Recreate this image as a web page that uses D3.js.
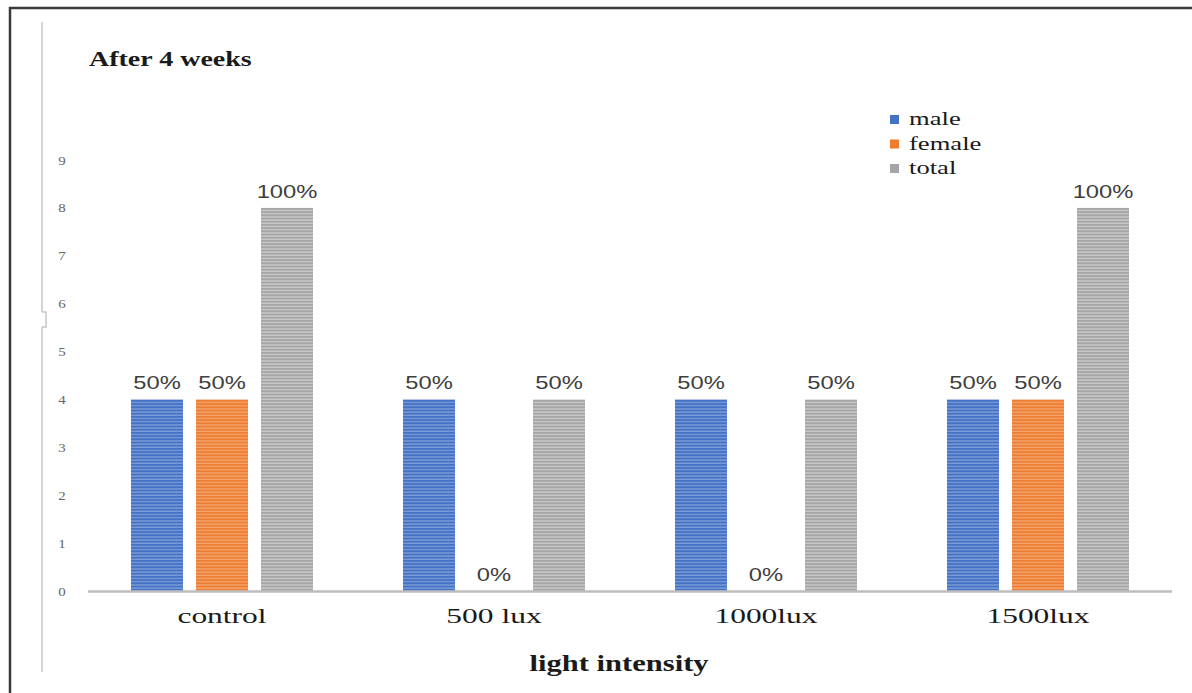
<!DOCTYPE html>
<html>
<head>
<meta charset="utf-8">
<script src="https://cdn.jsdelivr.net/npm/d3@7"></script>
<style>
  body { margin: 0; background: #fff; }
  svg { display: block; }
</style>
</head>
<body>
<div id="chart"></div>
<script>
const categories = ["control", "500 lux", "1000lux", "1500lux"];
const seriesNames = ["male", "female", "total"];
const maleValues = [4, 4, 4, 4];
const femaleValues = [4, 0, 0, 4];
const totalValues = [8, 4, 4, 8];
const maleLabels = ["50%", "50%", "50%", "50%"];
const femaleLabels = ["50%", "0%", "0%", "50%"];
const totalLabels = ["100%", "50%", "50%", "100%"];
const yTicks = [0, 1, 2, 3, 4, 5, 6, 7, 8, 9];

const W = 1192, H = 693;
const colors = { male: "#4472c4", female: "#ed7d31", total: "#a5a5a5" };
const stripe = { male: "#8fa9dc", female: "#f5b283", total: "#d6d6d6" };
const serif = "'Liberation Serif', 'Times New Roman', serif";

const svg = d3.select("#chart").append("svg")
  .attr("width", W).attr("height", H);

// the source picture is stretched sideways, so text gets a horizontal scale
function wideText(sel, x, y, sx) {
  return sel.append("text")
    .attr("transform", `translate(${x},${y}) scale(${sx},1)`);
}

// striped fill patterns, one per series
const defs = svg.append("defs");
seriesNames.forEach(s => {
  const p = defs.append("pattern")
    .attr("id", "pat-" + s)
    .attr("patternUnits", "userSpaceOnUse")
    .attr("width", 6).attr("height", 3.2);
  p.append("rect").attr("width", 6).attr("height", 3.2).attr("fill", colors[s]);
  p.append("rect").attr("y", 2).attr("width", 6).attr("height", 1).attr("fill", stripe[s]);
});

// outer frame
svg.append("rect")
  .attr("x", 10).attr("y", 8)
  .attr("width", W + 20).attr("height", H + 20)
  .attr("fill", "none").attr("stroke", "#3a3a3a").attr("stroke-width", 2.5);

// thin inner vertical line at left
svg.append("path")
  .attr("d", "M42,22 V312 M42,312 h4 v15 h-4 M42,327 V672")
  .attr("fill", "none").attr("stroke", "#c8c8c8").attr("stroke-width", 1.5);

const x0 = d3.scaleBand().domain(categories).range([86, 1174]);
const x1 = d3.scaleBand().domain(seriesNames).range([0, 182]).paddingInner(0.2);
const y = d3.scaleLinear().domain([0, 9]).range([591, 160]);

const g = svg.append("g");

// y tick labels (no axis line)
yTicks.forEach(d => {
  wideText(g, 62, y(d), 1.15)
    .attr("dy", "0.35em")
    .attr("text-anchor", "middle")
    .attr("font-family", serif)
    .attr("font-size", 13)
    .attr("fill", "#666")
    .text(d);
});

const rows = categories.map((c, i) => ({
  cat: c,
  vals: [
    { s: "male", v: maleValues[i], l: maleLabels[i] },
    { s: "female", v: femaleValues[i], l: femaleLabels[i] },
    { s: "total", v: totalValues[i], l: totalLabels[i] }
  ]
}));

const grp = g.selectAll(".grp").data(rows).enter().append("g")
  .attr("transform", d => `translate(${x0(d.cat) + (x0.bandwidth() - 182) / 2},0)`);

grp.selectAll("rect").data(d => d.vals).enter().append("rect")
  .attr("x", d => x1(d.s))
  .attr("width", x1.bandwidth())
  .attr("y", d => y(d.v))
  .attr("height", d => y(0) - y(d.v))
  .attr("fill", d => `url(#pat-${d.s})`);

grp.selectAll(".lbl").data(d => d.vals).enter().append("text")
  .attr("class", "lbl")
  .attr("transform", d => `translate(${x1(d.s) + x1.bandwidth() / 2},${y(d.v) - 10}) scale(1.25,1)`)
  .attr("text-anchor", "middle")
  .attr("font-family", "'Liberation Sans', Arial, sans-serif")
  .attr("font-size", 19)
  .attr("fill", "#404040")
  .text(d => d.l);

// baseline
g.append("line")
  .attr("x1", 88).attr("x2", 1172)
  .attr("y1", y(0) + 0.5).attr("y2", y(0) + 0.5)
  .attr("stroke", "#bdbdbd").attr("stroke-width", 2.5);

// x axis category labels
const xAxis = d3.axisBottom(x0).tickSize(0).tickPadding(0);
const ax = g.append("g").attr("transform", `translate(0,${y(0)})`).call(xAxis);
ax.select(".domain").remove();
ax.selectAll("text")
  .attr("y", 17)
  .attr("transform", "scale(1.5,1)")
  .attr("font-family", serif)
  .attr("font-size", 21)
  .attr("fill", "#1a1a1a");

// title
wideText(svg, 89, 66, 1.4)
  .attr("font-family", serif)
  .attr("font-weight", "bold")
  .attr("font-size", 20)
  .attr("fill", "#1a1a1a")
  .text("After 4 weeks");

// axis title
wideText(svg, 619, 671, 1.33)
  .attr("text-anchor", "middle")
  .attr("font-family", serif)
  .attr("font-weight", "bold")
  .attr("font-size", 23)
  .attr("fill", "#1a1a1a")
  .text("light intensity");

// legend
const legend = svg.append("g").attr("transform", "translate(890,113)");
seriesNames.forEach((s, i) => {
  legend.append("rect")
    .attr("x", 0).attr("y", i * 24.5 + 2)
    .attr("width", 9).attr("height", 9)
    .attr("fill", colors[s]);
  wideText(legend, 19, i * 24.5 + 12, 1.4)
    .attr("font-family", serif)
    .attr("font-size", 19)
    .attr("fill", "#1a1a1a")
    .text(s);
});
</script>
</body>
</html>
